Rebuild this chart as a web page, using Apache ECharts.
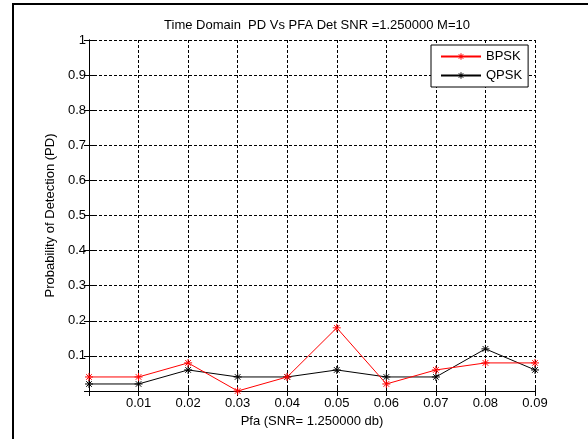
<!DOCTYPE html>
<html>
<head>
<meta charset="utf-8">
<script src="https://cdn.jsdelivr.net/npm/echarts@6/dist/echarts.min.js"></script>
<style>
  html, body { margin: 0; padding: 0; background: #fff; }
  #chart { width: 588px; height: 439px; }
</style>
</head>
<body>
<div id="chart"></div>
<script>
// Pfa values (x) and detection probability for each modulation
var pfa = [0, 0.01, 0.02, 0.03, 0.04, 0.05, 0.06, 0.07, 0.08, 0.09];
var bpsk = [0.04, 0.04, 0.08, 0.0, 0.04, 0.18, 0.02, 0.06, 0.08, 0.08];
var qpsk = [0.02, 0.02, 0.06, 0.04, 0.04, 0.06, 0.04, 0.04, 0.12, 0.06];

var fontFamily = 'Liberation Sans, Arial, sans-serif';
var fs = 13;
// asterisk marker like matlab '*'
var star = 'path://M0 5L10 5M5 0L5 10M1.5 1.5L8.5 8.5M8.5 1.5L1.5 8.5';

function pairs(ys) {
  return pfa.map(function (x, i) { return [x, ys[i]]; });
}

var chart = echarts.init(document.getElementById('chart'));

var dashed = { color: '#000', width: 1, type: [3, 2] };

chart.setOption({
  backgroundColor: '#fff',
  animation: false,
  textStyle: { fontFamily: fontFamily },
  title: {
    text: 'Time Domain  PD Vs PFA Det SNR =1.250000 M=10',
    left: 312,
    textAlign: 'center',
    top: 14,
    textStyle: { fontSize: fs, fontWeight: 'normal', color: '#000', fontFamily: fontFamily }
  },
  graphic: [{
    type: 'rect',
    shape: { x: 13, y: 4, width: 620, height: 480 },
    style: { fill: null, stroke: '#000', lineWidth: 2 },
    z: 100
  }],
  legend: {
    left: 431,
    top: 45,
    orient: 'vertical',
    backgroundColor: '#fff',
    borderColor: '#000',
    borderWidth: 1,
    padding: [5, 6, 5, 9],
    itemGap: 6,
    itemWidth: 40,
    itemHeight: 8,
    itemStyle: { borderWidth: 1 },
    textStyle: { fontSize: fs, color: '#000', fontFamily: fontFamily },
    data: ['BPSK', 'QPSK']
  },
  grid: { left: 89, right: 53, top: 40, bottom: 48 },
  xAxis: [{
    type: 'value',
    min: 0,
    max: 0.09,
    interval: 0.01,
    name: 'Pfa (SNR= 1.250000 db)',
    nameLocation: 'middle',
    nameGap: 23,
    nameTextStyle: { fontSize: fs, color: '#000' },
    axisLine: { lineStyle: { color: '#000', width: 1 } },
    axisTick: { inside: true, length: 5, lineStyle: { color: '#000' } },
    axisLabel: {
      fontSize: fs, color: '#000', margin: 6,
      formatter: function (v) { return v === 0 ? '' : v.toFixed(2); }
    },
    splitLine: { show: true, lineStyle: dashed }
  }, {
    type: 'value',
    position: 'top',
    min: 0,
    max: 0.09,
    interval: 0.01,
    axisLine: { lineStyle: { color: '#000', width: 1 } },
    axisTick: { inside: true, length: 5, lineStyle: { color: '#000' } },
    axisLabel: { show: false },
    splitLine: { show: false }
  }],
  yAxis: [{
    type: 'value',
    min: 0,
    max: 1,
    interval: 0.1,
    name: 'Probability of Detection (PD)',
    nameLocation: 'middle',
    nameGap: 31,
    nameTextStyle: { fontSize: fs, color: '#000' },
    axisLine: { show: true, lineStyle: { color: '#000', width: 1 } },
    axisTick: { show: true, inside: true, length: 5, lineStyle: { color: '#000' } },
    axisLabel: {
      fontSize: fs, color: '#000', margin: 3,
      formatter: function (v) {
        if (v === 0) return '';
        return v === 1 ? '1' : v.toFixed(1);
      }
    },
    splitLine: { show: true, lineStyle: dashed }
  }, {
    type: 'value',
    position: 'right',
    min: 0,
    max: 1,
    interval: 0.1,
    axisLine: { show: true, lineStyle: { color: '#000', width: 1 } },
    axisTick: { show: true, inside: true, length: 5, lineStyle: { color: '#000' } },
    axisLabel: { show: false },
    splitLine: { show: false }
  }],
  series: [{
    name: 'BPSK',
    type: 'line',
    data: pairs(bpsk),
    symbol: star,
    symbolSize: 8,
    showAllSymbol: true,
    lineStyle: { color: '#ff0000', width: 1 },
    itemStyle: { color: '#ff0000', borderColor: '#ff0000', borderWidth: 1 },
    z: 3
  }, {
    name: 'QPSK',
    type: 'line',
    data: pairs(qpsk),
    symbol: star,
    symbolSize: 8,
    showAllSymbol: true,
    lineStyle: { color: '#000', width: 1 },
    itemStyle: { color: '#000', borderColor: '#000', borderWidth: 1 },
    z: 2
  }]
});
</script>
</body>
</html>
